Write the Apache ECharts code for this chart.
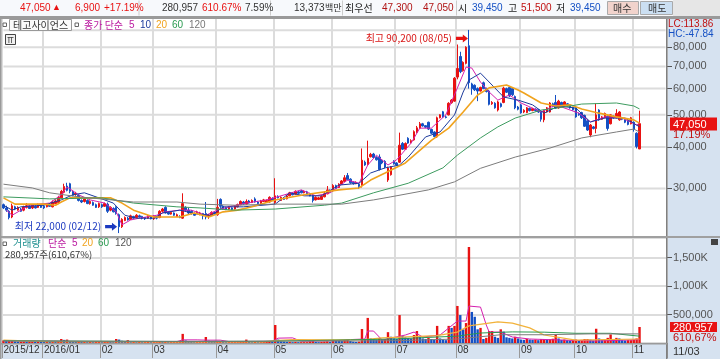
<!DOCTYPE html>
<html>
<head>
<meta charset="utf-8">
<style>
  html, body { margin: 0; padding: 0; background: #fff; }
  #chart { width: 720px; height: 359px; }
</style>
<script src="https://cdn.jsdelivr.net/npm/echarts@6/dist/echarts.min.js"></script>
</head>
<body>
<div id="chart"></div>
<script>
// month gridlines: index of first trading day in each month
const monthStarts = [0, 14, 34, 52, 74, 94, 114, 136, 157, 179, 198, 218];
const monthLabels = ['2015/12', '2016/01', '02', '03', '04', '05', '06', '07', '08', '09', '10', '11'];
const priceTicks = [30000, 40000, 50000, 60000, 70000, 80000];
const priceGrid = [30000, 40000, 50000, 60000, 70000, 80000, 90000];

const opens = [
  26800,26200,25600,24600,26400,25800,26000,25800,26300,26500,26200,26500,26300,26600,
  26500,26400,26800,26400,27000,27200,28100,29200,30500,31000,29400,28800,28600,27600,27400,27600,27000,27200,26800,26400,
  26800,26500,26900,25800,26100,26300,25000,23000,24000,24400,24200,24700,24500,24800,24700,24500,24400,24600,
  24300,24700,24500,25600,26300,25400,25100,25300,24700,24700,24400,26300,25800,25600,25200,25200,25000,25200,25200,24700,24900,25400,
  25000,27800,26500,26200,26000,26200,26000,26400,26800,27300,26900,27500,27200,27900,27300,27000,27400,27300,27300,28000,
  27200,28400,27600,28000,27900,28500,29000,28800,29300,29500,29100,29300,28900,28600,27700,27800,27800,28300,28900,29600,
  29500,30600,30200,30900,31500,32800,32000,31300,31000,30900,30600,36000,35400,37400,38100,37200,37300,36500,36200,31800,33000,36200,
  35800,36000,41000,39400,42500,41200,42000,44300,45600,47000,46400,47500,45200,44400,42900,49000,51100,49300,50000,54400,55000,
  65000,75000,68000,71500,80800,62000,61400,60000,59000,62500,60000,59000,54000,54200,51700,54000,54500,60000,60500,60000,56800,52800,
  53600,51000,50800,52300,51500,52000,51800,51000,48300,51000,51000,54000,54500,52500,54500,53200,54000,53500,52600,
  52600,50500,50800,49800,48000,43500,46000,45500,51700,48500,49000,49500,47000,49500,49000,48300,49000,48500,48000,47000,
  47500,44000,39450
];
const closes = [
  26200,25800,24500,26600,26000,26300,25600,26400,26600,26100,26700,26200,26800,26300,
  26200,26900,26500,27300,27500,28200,29400,30400,29600,29400,28600,29000,27600,27300,27900,27000,27400,26700,26300,27000,
  26400,27000,25600,26300,25500,25200,23000,24200,24500,24100,24800,24400,24900,24600,24400,24300,24700,24300,
  24700,24400,25600,26000,25300,25100,25400,24900,25000,24500,27000,25800,25300,25200,24900,25500,25300,24800,24600,24900,25400,25100,
  26300,26500,26000,25900,26300,25900,26500,26800,27400,26900,27400,27100,27600,27300,27000,27500,27700,27600,28200,27600,
  28500,28100,28200,27800,28500,29100,28700,29400,29000,29100,29400,28900,28500,27600,28200,28100,28400,28900,29700,29200,
  30600,30000,30900,31600,32300,31900,31200,31000,31300,30400,36500,35300,37000,38000,37200,36600,34200,35800,34800,34600,34800,35600,
  35300,40500,39400,41000,41100,41800,44500,45700,47000,46300,45900,45300,44000,43000,49000,50000,49300,49100,54200,55400,64500,
  69000,67500,72000,80000,62500,60000,59500,59000,60500,60000,58800,53800,54500,52500,54700,53000,60200,58500,57000,57500,52500,52000,
  50700,51600,52500,51500,52200,51500,51000,48500,51500,52500,54300,53000,52400,55000,53500,54700,53300,52500,51800,
  49300,50000,49000,46200,45000,46600,45500,50000,48300,49300,50500,45500,50000,49000,50500,51000,48500,47500,46800,49000,
  45200,40150,47050
];
const lows = [
  26000,25500,24200,24400,25800,25700,25500,25600,26100,26000,26000,26100,26200,26200,
  26000,26300,26400,26300,26900,26900,28000,29000,29400,29000,28400,28500,27400,27100,27200,26900,26800,26600,26200,26200,
  26200,26400,25300,25600,25400,25000,22000,22800,23900,24000,24100,24300,24400,24500,24200,24100,24300,24200,
  24100,24200,24400,25400,25200,25000,25000,24800,24600,24400,24300,25600,25100,25000,24800,25100,24900,24200,24200,24300,24800,25000,
  24800,26200,25900,25800,25900,25800,25900,26300,26700,26800,26800,27000,27100,27200,26900,26900,27300,27200,27200,27500,
  26900,28000,27500,27700,27800,28400,28600,28700,28900,29000,29000,28800,28400,27200,27600,27700,27700,28200,28800,29100,
  29300,29900,30100,30800,31400,31700,31000,30800,30900,29900,30200,35100,35200,37200,37000,36400,34000,35500,34500,31400,32800,35400,
  35100,35800,39200,39200,40900,41000,41800,44000,45400,46100,45600,45000,43800,42800,42600,48800,49000,48800,49800,54000,54800,
  64000,66800,67500,71000,60000,57500,59000,55000,58800,59800,58400,53400,53600,52200,51200,52600,54200,58200,56600,57000,52000,51600,
  50400,50600,50600,51200,51300,51200,50700,47700,47500,50800,50800,52700,52100,52200,53200,53000,53000,52200,51500,
  49000,49700,48600,46000,44700,42800,45200,44000,48000,48300,48800,44800,46800,48700,48800,48000,48200,47200,46500,46800,
  44500,39600,39450
];
const highs = [
  27000,26600,25800,27000,26600,26500,26200,26600,27100,26700,26900,26700,27000,26800,
  26700,27100,27000,27600,27800,28500,29700,31000,31200,31200,29600,29300,28800,27800,28100,27800,27600,27400,27000,27200,
  27000,27200,27200,26500,26300,26500,25200,24400,24700,24600,25000,24800,25100,25000,24800,24600,24900,24700,
  24900,24800,25800,26200,26500,25600,25600,25400,25200,24900,29000,26500,26200,25800,25400,25700,25500,25300,27300,25100,25600,25600,
  27900,28000,26700,26400,26500,26300,26700,27000,27600,27500,27800,27700,27800,28200,27500,27700,27900,27800,28400,28200,
  32200,28600,28400,28200,28700,29300,29200,29600,29500,29700,29600,29500,29100,29000,28400,28300,28600,29400,30500,29800,
  30900,30800,31100,31800,32900,33400,32200,31500,31500,31100,39600,36400,41800,38400,38400,37500,38000,36800,36500,34900,35000,36500,
  36000,44200,41400,41300,42800,42200,44900,46300,47600,47300,46600,47700,45400,44600,49400,50200,51400,49800,54600,55800,65000,
  81500,77500,72500,80500,90200,62500,61800,60500,60800,63000,60400,59500,55000,54600,55200,54400,60800,60400,61000,60400,57200,53200,
  54000,52000,52800,52600,52500,52300,52100,51700,51800,52800,54600,54400,57400,55500,54800,55000,54300,53800,52900,
  52900,50800,51100,50100,48400,46900,46300,54100,52000,49600,50800,49800,50300,49800,52000,51300,49300,48800,48300,49300,
  47800,44300,51500
];
const volumes = [
  45000,35000,40000,50000,30000,25000,25000,30000,25000,25000,30000,25000,30000,25000,
  20000,25000,20000,30000,25000,35000,70000,55000,60000,35000,25000,20000,25000,20000,20000,15000,20000,15000,20000,25000,
  15000,20000,30000,20000,15000,70000,60000,40000,30000,50000,15000,20000,15000,25000,15000,15000,20000,15000,
  15000,15000,25000,20000,20000,15000,15000,15000,15000,15000,160000,45000,30000,20000,15000,15000,15000,15000,105000,40000,25000,20000,
  25000,30000,20000,15000,15000,15000,15000,15000,20000,25000,60000,25000,15000,20000,15000,15000,20000,20000,25000,20000,
  316000,60000,30000,25000,20000,20000,15000,20000,15000,15000,15000,15000,30000,35000,20000,15000,20000,25000,30000,20000,
  55000,50000,40000,35000,50000,60000,35000,25000,20000,25000,245000,70000,440000,80000,70000,60000,90000,60000,70000,190000,110000,80000,
  70000,490000,125000,100000,90000,80000,140000,210000,110000,80000,70000,90000,70000,60000,300000,80000,60000,50000,300000,265000,300000,
  650000,490000,240000,350000,1684000,545000,460000,240000,265000,70000,90000,210000,210000,110000,90000,240000,200000,100000,90000,80000,110000,80000,
  60000,55000,70000,60000,55000,60000,50000,70000,70000,60000,65000,75000,140000,80000,55000,60000,50000,45000,55000,
  60000,45000,55000,70000,70000,60000,45000,250000,80000,55000,60000,90000,150000,70000,90000,80000,50000,45000,50000,50000,
  60000,80000,280957
];

// moving averages as [bar index, price]
const ma5 = [[1,25800],[3,24900],[9,26700],[16,27100],[20,28700],[22,30300],[26,28700],[30,27700],[35,27100],[39,25500],[41,23300],[44,24100],[47,24400],[53,24900],[56,25500],[61,25800],[65,25800],[70,24900],[74,25800],[78,26400],[84,27100],[91,27700],[96,28500],[103,29700],[108,28500],[113,29100],[119,31800],[123,31100],[126,35300],[129,37800],[133,35300],[136,36600],[141,41100],[144,45600],[148,45600],[153,50000],[157,60300],[160,69700],[162,69200],[165,62800],[168,58600],[171,55400],[175,57400],[179,54300],[186,51000],[191,53600],[199,50600],[203,47600],[208,49300],[214,48900],[219,46600],[220,47200]];
const ma10 = [[0,26700],[3,25800],[6,26400],[14,26700],[20,27700],[24,28700],[28,29100],[33,28100],[38,27100],[42,24900],[46,24400],[52,24400],[55,25300],[61,25800],[67,25100],[72,24900],[76,26400],[83,26400],[94,26900],[99,29100],[104,28500],[110,28500],[116,30700],[123,31100],[127,33400],[132,34600],[137,35300],[140,37300],[146,42900],[151,44400],[156,50000],[159,58600],[161,63700],[165,66800],[169,61500],[173,56600],[178,55400],[183,53600],[187,50600],[192,53200],[198,52400],[203,47600],[208,48900],[215,48900],[220,46000]];
const ma20 = [[0,28100],[4,26900],[14,26900],[18,26700],[20,27300],[23,28100],[28,28100],[37,28100],[41,27100],[45,25800],[52,24600],[57,24600],[61,24600],[66,25300],[71,24600],[76,25500],[81,25800],[86,26400],[94,27700],[104,28700],[116,29700],[123,30100],[127,31800],[132,33400],[139,35800],[148,41900],[154,45600],[159,51000],[164,57400],[168,60300],[174,61500],[178,59400],[180,58200],[186,54300],[191,53200],[196,53600],[200,52100],[206,50600],[212,49300],[218,48300],[220,47200]];
const ma60 = [[0,28300],[16,27900],[34,28100],[45,27100],[60,26400],[68,26200],[80,25800],[94,26000],[111,26700],[117,27100],[128,29100],[140,31100],[152,34600],[157,37800],[165,42600],[171,46000],[177,48900],[186,51700],[194,52800],[200,53900],[212,54300],[218,53200],[220,52100]];
const ma120 = [[0,30900],[10,30100],[16,29100],[26,28300],[45,27300],[60,27300],[68,26900],[80,26700],[94,26900],[117,26900],[128,27700],[134,28300],[147,29700],[156,31400],[165,34500],[177,37300],[189,39700],[200,42600],[212,44400],[218,45300],[220,44400]];

const volMa5 = [[0,40000],[30,25000],[60,25000],[62,55000],[67,55000],[70,50000],[75,50000],[78,25000],[93,30000],[95,85000],[100,90000],[103,30000],[114,40000],[120,60000],[125,70000],[126,210000],[128,210000],[131,52000],[139,140000],[142,192000],[145,105000],[151,140000],[157,385000],[160,385000],[161,648000],[165,630000],[167,315000],[168,192000],[172,192000],[176,105000],[182,70000],[193,52000],[205,35000],[220,60000]];
const volMa20 = [[0,50000],[15,25000],[60,20000],[90,20000],[94,40000],[100,60000],[113,55000],[125,60000],[131,90000],[150,130000],[157,192000],[161,300000],[171,370000],[176,350000],[182,265000],[187,140000],[198,52000],[220,70000]];
const volMa60 = [[0,40000],[20,35000],[60,25000],[90,30000],[120,55000],[135,70000],[150,105000],[157,120000],[165,175000],[176,195000],[187,190000],[198,170000],[210,170000],[220,120000]];
const volMa120 = [[0,35000],[60,30000],[120,35000],[135,40000],[157,70000],[172,145000],[187,145000],[203,160000],[220,160000]];

const RED = '#e81212', BLUE = '#1450c4', PANEL = '#d6e2f0', GRID = '#dcdcdc';
const MAG = '#d51fae', NAVY = '#1c3a9c', ORG = '#f0a31e', GRN = '#3d9b5f', GRY = '#7c7c7c';
const NUM = '"Liberation Sans", Arial, sans-serif';
const KR = '"Noto Sans CJK KR", sans-serif';

// categories: trading days plus blank room on the right
const barCount = 230;
const categories = Array.from({ length: barCount }, (_, i) => String(i));
const candles = opens.map((o, i) => [o, closes[i], lows[i], highs[i]]);
// volume bars are red when volume rose against the day before
const volBars = volumes.map((v, i) => ({
  value: v,
  itemStyle: { color: i === 0 || v >= volumes[i - 1] ? RED : BLUE },
}));

const isMonthStart = (i) => monthStarts.includes(i);

const txt = (x, y, text, fill, font = NUM, size = 10, extra = {}) => ({
  type: 'text', x, y, z: 50, silent: true,
  style: { text, fill, fontFamily: font, fontSize: size, textVerticalAlign: 'middle', ...extra },
});
const box = (x, y, width, height, fill, stroke, z = -5) => ({
  type: 'rect', z, silent: true,
  shape: { x, y, width, height },
  style: { fill, stroke: stroke || null, lineWidth: 1 },
});

const graphics = [
  // header strip
  box(0, 0, 720, 16, '#f7f9fc'),
  box(0, 16, 720, 3, '#9a9a9a', null, 40),
  box(673, 0, 47, 16, '#e6e6e6'),
  box(138.5, 0.5, 1, 15, '#cccccc'),
  box(270, 0.5, 1, 15, '#cccccc'),
  box(342, 0.5, 1, 15, '#cccccc'),
  box(456, 0.5, 1, 15, '#cccccc'),
  box(607.5, 1.5, 31, 13, '#f1d3cc', '#aaaaaa'),
  box(640.5, 1.5, 32, 13, '#cbdff2', '#aaaaaa'),
  txt(20, 8, '47,050', RED),
  txt(52, 8, '▲', RED, NUM, 9),
  txt(75, 8, '6,900', RED),
  txt(104, 8, '+17.19%', RED),
  txt(162, 8, '280,957', '#333333'),
  txt(202, 8, '610.67%', RED),
  txt(245, 8, '7.59%', '#333333'),
  txt(294, 8, '13,373', '#333333'),
  txt(325, 8, '백만', '#333333', KR, 9),
  txt(345, 8, '최우선', '#222222', KR, 10),
  txt(382, 8, '47,300', '#b01515'),
  txt(423, 8, '47,050', '#b01515'),
  txt(458, 8, '시', '#222222', KR, 10),
  txt(472, 8, '39,450', BLUE),
  txt(508, 8, '고', '#222222', KR, 10),
  txt(521, 8, '51,500', '#c01010'),
  txt(556, 8, '저', '#222222', KR, 10),
  txt(570, 8, '39,450', BLUE),
  txt(613, 8, '매수', '#333333', KR, 10),
  txt(648, 8, '매도', '#333333', KR, 10),
  // right and bottom panels
  box(667, 19, 53, 340, PANEL),
  box(0, 344, 667, 15, PANEL),
  box(666, 19, 1.5, 340, '#808080', null, 40),
  box(0, 236, 720, 2, '#a0a0a0', null, 40),
  box(0, 343, 667, 1.5, '#9a9a9a', null, 40),
  box(0, 19, 1.5, 340, '#9a9a9a', null, 40),
  // main pane legend
  box(3, 23, 3.5, 3.5, '#ffffff', '#666666', 45),
  box(9.5, 19.5, 62, 11, '#fafafa', '#999999', 45),
  txt(13, 25.5, '테고사이언스', '#333333', KR, 10),
  box(75, 23, 3.5, 3.5, '#ffffff', '#666666', 45),
  txt(84, 25.5, '종가 단순', '#bb1aa0', KR, 10),
  txt(129, 25.5, '5', '#bb1aa0'),
  txt(140, 25.5, '10', NAVY),
  txt(156, 25.5, '20', ORG),
  txt(172, 25.5, '60', '#2a9a50'),
  txt(189, 25.5, '120', '#777777'),
  box(5.5, 34.5, 10, 10, '#f0f0f0', '#444444', 45),
  box(7.5, 37, 6, 0.8, '#444444', null, 46),
  box(8.5, 37, 0.8, 6, '#444444', null, 46),
  box(11, 37, 0.8, 6, '#444444', null, 46),
  txt(668, 24.5, 'LC:113.86', '#c01010', NUM, 10),
  txt(668, 34.5, 'HC:-47.84', '#1450c4', NUM, 10),
  box(670, 117.5, 47, 13, RED, null, 45),
  txt(673, 124.5, '47,050', '#ffffff', NUM, 11),
  txt(673, 135, '17.19%', '#c01010', NUM, 11),
  // volume legend
  box(3, 242, 3.5, 3.5, '#ffffff', '#666666', 45),
  txt(13, 243.5, '거래량', '#1f8f8f', KR, 10),
  txt(48, 243.5, '단순', '#bb1aa0', KR, 10),
  txt(72, 243.5, '5', '#bb1aa0'),
  txt(82, 243.5, '20', ORG),
  txt(98, 243.5, '60', '#2a9a50'),
  txt(115, 243.5, '120', '#555555'),
  txt(5, 254.5, '280,957주(610,67%)', '#333333', KR, 9.5),
  box(711, 239, 7, 6, '#444444', null, 45),
  box(670, 322, 47, 10, RED, null, 45),
  txt(673, 327.5, '280,957', '#ffffff', NUM, 11),
  txt(673, 338, '610,67%', '#c01010', NUM, 11),
  txt(673, 351.5, '11/03', '#333333', NUM, 11),
];

const maLine = (name, data, color, width, xAxisIndex = 0, yAxisIndex = 0) => ({
  name, type: 'line', data, xAxisIndex, yAxisIndex,
  showSymbol: false, silent: true,
  lineStyle: { color, width },
  z: 4,
});

// horizontal price gridlines, drawn as flat lines through the log scale
const gridLines = priceGrid.map((v) => ({
  ...maLine('grid' + v, [[0, v], [barCount - 1, v]], GRID, 2),
  z: 1,
}));

const xBase = {
  type: 'category',
  data: categories,
  boundaryGap: true,
  axisLine: { show: false },
  axisTick: { show: false },
  splitLine: { show: true, interval: (i) => isMonthStart(i), lineStyle: { color: GRID, width: 2 } },
};

const chart = echarts.init(document.getElementById('chart'));
chart.setOption({
  animation: false,
  graphic: { elements: graphics },
  grid: [
    { left: 2, right: 53, top: 19, height: 217 },
    { left: 2, right: 53, top: 238, height: 105 },
  ],
  xAxis: [
    { ...xBase, gridIndex: 0, axisLabel: { show: false } },
    {
      ...xBase, gridIndex: 1,
      axisTick: { show: true, length: 15, alignWithLabel: false, interval: (i) => isMonthStart(i), lineStyle: { color: '#999999' } },
      axisLabel: {
        show: true, margin: 2, align: 'left', color: '#333333', fontFamily: NUM, fontSize: 10,
        interval: (i) => isMonthStart(i),
        formatter: (v, i) => monthLabels[monthStarts.indexOf(i)] || '',
      },
    },
  ],
  yAxis: [
    {
      type: 'log', logBase: 10, gridIndex: 0, position: 'right',
      min: 21560, max: 97300,
      axisLine: { show: false },
      axisTick: { show: true, length: 5, customValues: priceTicks, lineStyle: { color: '#555555' } },
      axisLabel: {
        show: true, margin: 6, color: '#555555', fontFamily: NUM, fontSize: 11,
        customValues: priceTicks,
        formatter: (v) => Number(v).toLocaleString('en-US'),
      },
      splitLine: { show: false },
    },
    {
      type: 'value', gridIndex: 1, position: 'right',
      min: 0, max: 1842000, interval: 500000,
      axisLine: { show: false },
      axisTick: { show: true, length: 5, lineStyle: { color: '#555555' } },
      axisLabel: {
        show: true, margin: 6, color: '#555555', fontFamily: NUM, fontSize: 11,
        showMinLabel: false, showMaxLabel: false,
        formatter: (v) => (v === 0 ? '' : v >= 1000000 ? (v / 1000).toLocaleString('en-US') + 'K' : v.toLocaleString('en-US')),
      },
      splitLine: { show: true, lineStyle: { color: GRID, width: 2 } },
    },
  ],
  series: [
    ...gridLines,
    {
      name: 'price', type: 'candlestick', data: candles, barWidth: 2, z: 3,
      itemStyle: { color: RED, color0: BLUE, borderColor: RED, borderColor0: BLUE, borderWidth: 1 },
      markPoint: {
        silent: true,
        symbol: 'path://M0 3 H8 V0 L14 5 L8 10 V7 H0 Z',
        symbolSize: [12, 8],
        data: [
          {
            coord: [161, 85000], symbolOffset: [-7, 0],
            itemStyle: { color: RED },
            label: { show: true, position: 'left', distance: 4, formatter: '최고 90,200 (08/05)', color: '#d81414', fontFamily: KR, fontSize: 10 },
          },
          {
            coord: [40, 23000], symbolOffset: [-8, 0],
            itemStyle: { color: '#1c3ac0' },
            label: { show: true, position: 'left', distance: 4, formatter: '최저 22,000 (02/12)', color: '#1c3ac0', fontFamily: KR, fontSize: 10 },
          },
        ],
      },
    },
    maLine('MA5', ma5, MAG, 1),
    maLine('MA10', ma10, NAVY, 1),
    maLine('MA20', ma20, ORG, 1.6),
    maLine('MA60', ma60, GRN, 1),
    maLine('MA120', ma120, GRY, 1),
    { name: 'volume', type: 'bar', data: volBars, xAxisIndex: 1, yAxisIndex: 1, barWidth: 2.4, z: 3, silent: true },
    maLine('volMA5', volMa5, MAG, 1, 1, 1),
    maLine('volMA20', volMa20, '#f2b23a', 1.2, 1, 1),
    maLine('volMA60', volMa60, '#2a9a50', 1, 1, 1),
    maLine('volMA120', volMa120, GRY, 1, 1, 1),
  ],
});
</script>
</body>
</html>
